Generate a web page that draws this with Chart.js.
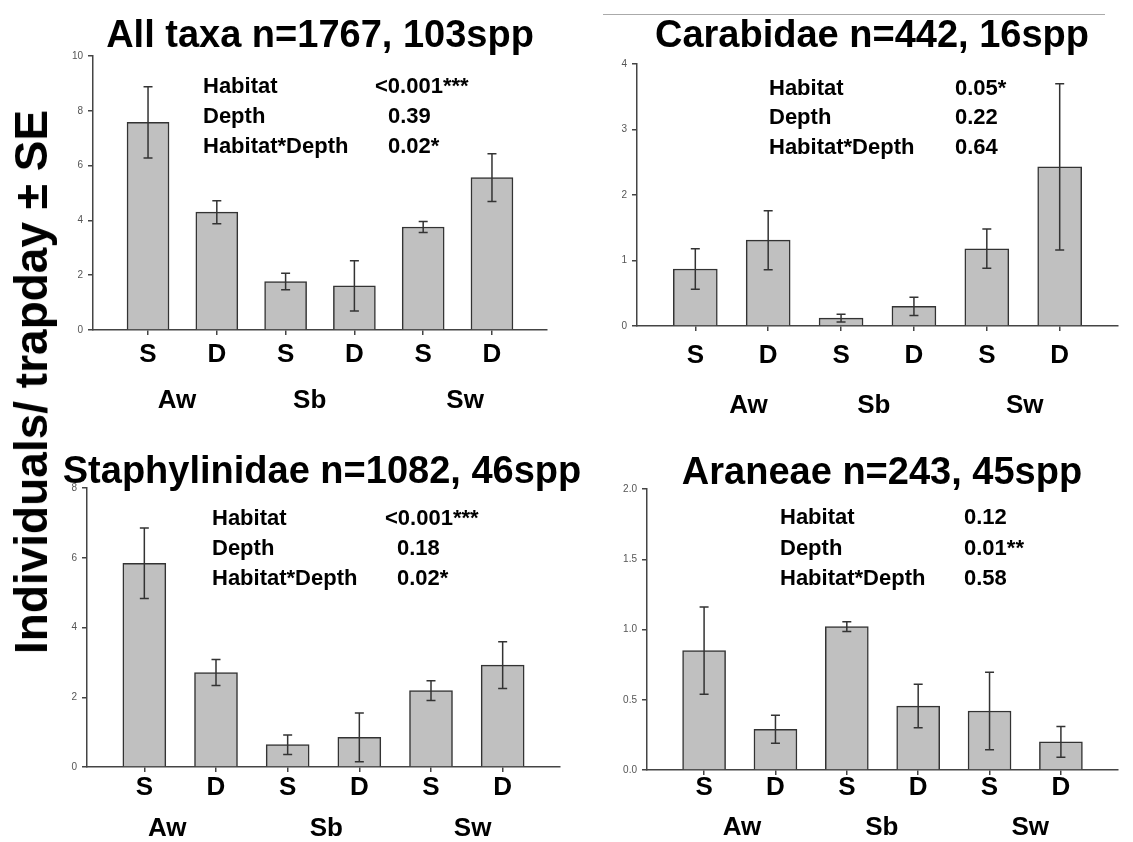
<!DOCTYPE html>
<html><head><meta charset="utf-8">
<script src="https://cdn.jsdelivr.net/npm/chart.js@4.4.1/dist/chart.umd.min.js"></script>
<style>
html,body{margin:0;padding:0;background:#fff;}
body{width:1133px;height:842px;position:relative;overflow:hidden;font-family:'Liberation Sans',Arial,sans-serif;}
canvas{position:absolute;}
.t{position:absolute;font-weight:bold;white-space:nowrap;line-height:1;color:#000;}
.title{font-size:38px;transform:translateX(-50%);}
.stat{font-size:22px;}
#ylab{font-size:46px;transform:translate(-50%,-50%) rotate(-90deg);}
#topline{position:absolute;left:603px;top:14px;width:502px;height:1px;background:#aaa;}
</style></head><body>
<div id="topline"></div>
<script>
// ---- data ----
const depthLabels = ['S','D','S','D','S','D'];
const habitatLabels = ['Aw','Sb','Sw'];
const statNames = ['Habitat','Depth','Habitat*Depth'];

const allTaxaTitle = 'All taxa n=1767, 103spp';
const allTaxaMeans = [7.58, 4.30, 1.77, 1.61, 3.76, 5.56];
const allTaxaSE    = [1.30, 0.42, 0.30, 0.92, 0.20, 0.87];
const allTaxaP     = ['<0.001***', '0.39', '0.02*'];

const carabTitle = 'Carabidae n=442, 16spp';
const carabMeans = [0.87, 1.31, 0.12, 0.30, 1.18, 2.43];
const carabSE    = [0.31, 0.45, 0.06, 0.14, 0.30, 1.27];
const carabP     = ['0.05*', '0.22', '0.64'];

const staphTitle = 'Staphylinidae n=1082, 46spp';
const staphMeans = [5.84, 2.71, 0.64, 0.85, 2.19, 2.92];
const staphSE    = [1.01, 0.37, 0.28, 0.70, 0.28, 0.67];
const staphP     = ['<0.001***', '0.18', '0.02*'];

const araneTitle = 'Araneae n=243, 45spp';
const araneMeans = [0.85, 0.29, 1.02, 0.455, 0.42, 0.20];
const araneSE    = [0.31, 0.10, 0.035, 0.155, 0.275, 0.11];
const araneP     = ['0.12', '0.01**', '0.58'];

const yAxisTitle = 'Individuals/ trapday \u00b1 SE';

// ---- layout config ----
const panels = [
  {title: allTaxaTitle, means: allTaxaMeans, se: allTaxaSE, p: allTaxaP, yMax: 10, yStep: 2, dec: 0,
   area: {l: 93, t: 56, r: 547, b: 330}, bar: 42, groupPos: [0.42, 2.35, 4.61], sdPad: 4.4, grpPad: 7.6,
   titleX: 320, titleTop: 15, statTop: [75, 105, 135], statX: 203, valX: [375, 388, 388]},
  {title: carabTitle, means: carabMeans, se: carabSE, p: carabP, yMax: 4, yStep: 1, dec: 0,
   area: {l: 637, t: 64, r: 1118, b: 326}, bar: 44, groupPos: [0.73, 2.45, 4.52], sdPad: 9.4, grpPad: 16.6,
   titleX: 872, titleTop: 15, statTop: [77, 106, 136], statX: 769, valX: [955, 955, 955]},
  {title: staphTitle, means: staphMeans, se: staphSE, p: staphP, yMax: 8, yStep: 2, dec: 0,
   area: {l: 87, t: 488, r: 560, b: 767}, bar: 43, groupPos: [0.32, 2.54, 4.58], sdPad: 0, grpPad: -1.4,
   titleX: 322, titleTop: 451, statTop: [507, 537, 567], statX: 212, valX: [385, 397, 397]},
  {title: araneTitle, means: araneMeans, se: araneSE, p: araneP, yMax: 2, yStep: 0.5, dec: 1,
   area: {l: 647, t: 489, r: 1118, b: 770}, bar: 43, groupPos: [0.53, 2.49, 4.57], sdPad: -2.6, grpPad: -5.4,
   titleX: 882, titleTop: 452, statTop: [506, 537, 567], statX: 780, valX: [964, 964, 964]}
];

const FONT = "'Liberation Sans', Arial, sans-serif";
const AXIS = '#444';
const Y_W = 63, PAD_T = 16, PAD_R = 23, X_H = 40, X2_H = 60;

const errorBars = {
  id: 'errorBars',
  afterDatasetsDraw(chart) {
    const ctx = chart.ctx, y = chart.scales.y;
    const ds = chart.data.datasets[0];
    const meta = chart.getDatasetMeta(0);
    ctx.save();
    ctx.strokeStyle = '#333';
    ctx.lineWidth = 1.5;
    meta.data.forEach((bar, i) => {
      const v = ds.data[i].y, e = ds.se[i];
      const yt = y.getPixelForValue(v + e), yb = y.getPixelForValue(v - e);
      const x = bar.x, w = 4.5;
      ctx.beginPath();
      ctx.moveTo(x, yt); ctx.lineTo(x, yb);
      ctx.moveTo(x - w, yt); ctx.lineTo(x + w, yt);
      ctx.moveTo(x - w, yb); ctx.lineTo(x + w, yb);
      ctx.stroke();
    });
    ctx.restore();
  }
};

function addText(txt, cls, left, top) {
  const d = document.createElement('div');
  d.className = 't ' + cls;
  d.textContent = txt;
  d.style.left = left + 'px';
  d.style.top = top + 'px';
  document.body.appendChild(d);
  return d;
}

panels.forEach((P) => {
  const a = P.area;
  const cv = document.createElement('canvas');
  const W = (a.r - a.l) + Y_W + PAD_R;
  const H = (a.b - a.t) + PAD_T + X_H + X2_H;
  cv.width = W; cv.height = H;
  cv.style.left = (a.l - Y_W) + 'px';
  cv.style.top = (a.t - PAD_T) + 'px';
  cv.style.width = W + 'px'; cv.style.height = H + 'px';
  document.body.appendChild(cv);

  new Chart(cv, {
    type: 'bar',
    data: {
      datasets: [{
        data: P.means.map((v, i) => ({x: i, y: v})),
        se: P.se,
        backgroundColor: '#c0c0c0',
        borderColor: '#333',
        borderWidth: 1.5,
        barThickness: P.bar
      }]
    },
    options: {
      responsive: false,
      animation: false,
      devicePixelRatio: 1,
      layout: {padding: {top: PAD_T, right: PAD_R, left: 0, bottom: 0}},
      plugins: {legend: {display: false}, tooltip: {enabled: false}, title: {display: false}},
      scales: {
        x: {
          type: 'linear', position: 'bottom', min: -0.8, max: 5.8, weight: 0, offset: false,
          grid: {display: true, offset: false, drawOnChartArea: false, drawTicks: true, tickLength: 5, color: AXIS, lineWidth: 1.5},
          border: {display: true, color: AXIS, width: 1.5},
          ticks: {
            stepSize: 1, includeBounds: false, autoSkip: false, maxRotation: 0, padding: P.sdPad,
            color: '#000', font: {family: FONT, size: 26, weight: 'bold'},
            callback: (v) => Number.isInteger(v) ? depthLabels[v] : ''
          },
          afterFit: (s) => { s.height = X_H; }
        },
        x2: {
          type: 'linear', position: 'bottom', min: -0.8, max: 5.8, weight: 1, offset: false,
          grid: {display: false, offset: false}, border: {display: false},
          afterBuildTicks: (s) => { s.ticks = P.groupPos.map(v => ({value: v})); },
          ticks: {
            autoSkip: false, maxRotation: 0, padding: P.grpPad,
            color: '#000', font: {family: FONT, size: 26, weight: 'bold'},
            callback: (v, i) => habitatLabels[i]
          },
          afterFit: (s) => { s.height = X2_H; }
        },
        y: {
          type: 'linear', position: 'left', min: 0, max: P.yMax,
          grid: {display: true, drawOnChartArea: false, drawTicks: true, tickLength: 5, color: AXIS, lineWidth: 1.5},
          border: {display: true, color: AXIS, width: 1.5},
          ticks: {
            stepSize: P.yStep, padding: 5, color: '#555',
            font: {family: FONT, size: 10},
            callback: (v) => v.toFixed(P.dec)
          },
          afterFit: (s) => { s.width = Y_W; }
        }
      }
    },
    plugins: [errorBars]
  });

  addText(P.title, 'title', P.titleX, P.titleTop);
  statNames.forEach((n, i) => {
    addText(n, 'stat', P.statX, P.statTop[i]);
    addText(P.p[i], 'stat', P.valX[i], P.statTop[i]);
  });
});

const yl = addText(yAxisTitle, '', 31, 382);
yl.id = 'ylab';
</script>
</body></html>
